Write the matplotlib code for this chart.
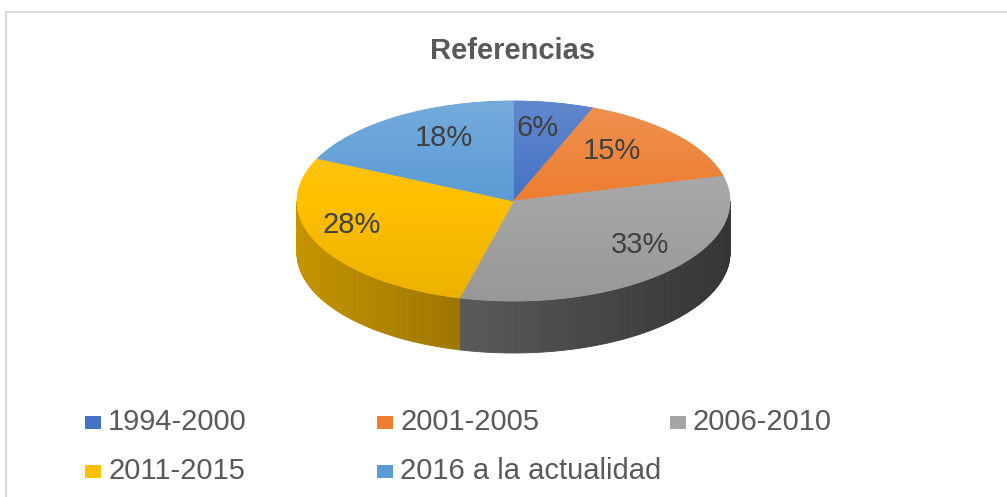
import numpy as np
import matplotlib.pyplot as plt
from matplotlib.patches import Polygon, Rectangle, Circle
from matplotlib.colors import to_rgb

plt.rcParams['font.family'] = ['Liberation Sans', 'DejaVu Sans']

periodos = ['1994-2000', '2001-2005', '2006-2010', '2011-2015', '2016 a la actualidad']
porcentajes = [6, 15, 33, 28, 18]
colores = ['#4472C4', '#ED7D31', '#A5A5A5', '#FFC000', '#5B9BD5']

W, H = 1007, 497
cx, cy, a, b = 513.5, 201, 216.5, 100   # ellipse centre / semi-axes in pixels
depth = 52 / b                           # side height in pie units

fig = plt.figure(figsize=(W / 100, H / 100), dpi=100)
ax = fig.add_axes([0, 0, 1, 1])

wedges, texts, autotexts = ax.pie(
    porcentajes, colors=colores, startangle=90, counterclock=False,
    autopct='%1.0f%%', pctdistance=0.71,
    wedgeprops=dict(linewidth=0.6, zorder=2),
    textprops=dict(fontsize=21, color='#404040'))
for w, c in zip(wedges, colores):
    w.set_edgecolor(c)
# rough perspective: labels in the back half sit closer in, front half further out
for t in autotexts:
    x, y = t.get_position()
    if y > 0:
        t.set_position((x * 0.85, y + 0.03))
    else:
        t.set_position((x * 1.16, y + 0.06))
    t.set_zorder(5)

# front side walls, shaded darker to the right
total = sum(porcentajes)
cum = np.cumsum([0] + porcentajes) / total
for i, c in enumerate(colores):
    t_start = 90 - 360 * cum[i]
    t_end = 90 - 360 * cum[i + 1]
    for lo, hi in [(-180, 0), (180, 360), (-540, -360)]:
        s, e = max(t_end, lo), min(t_start, hi)
        if e <= s:
            continue
        edges = np.linspace(s, e, max(2, int(e - s) + 1))
        for t0, t1 in zip(edges[:-1], edges[1:]):
            tt = np.radians(np.linspace(t0, t1, 4))
            xs, ys = np.cos(tt), np.sin(tt)
            pts = np.column_stack([np.r_[xs, xs[::-1]], np.r_[ys, ys[::-1] - depth]])
            xm = np.cos(np.radians((t0 + t1) / 2))
            f = 0.77 - 0.41 * (xm + 1) / 2
            if c == '#A5A5A5':
                f *= 0.88
            col = tuple(np.array(to_rgb(c)) * f)
            ax.add_patch(Polygon(pts, closed=True, facecolor=col, edgecolor=col,
                                 linewidth=0.6, zorder=1))

# soft vertical gradient on the top face
grad = np.zeros((256, 1, 4))
v = np.linspace(0, 1, 256)
grad[:, 0, :3] = np.where(v < 0.5, 1.0, 0.0)[:, None]
grad[:, 0, 3] = np.where(v < 0.5, 0.16 * (1 - v / 0.5), 0.08 * (v - 0.5) / 0.5)
im = ax.imshow(grad, extent=(-1, 1, -1, 1), aspect='auto', zorder=3)
im.set_clip_path(Circle((0, 0), 1, transform=ax.transData))

ax.set_aspect('auto')
ax.set_xlim(-cx / a, (W - cx) / a)
ax.set_ylim(-(H - cy) / b, cy / b)
ax.axis('off')

# overlay in pixel coordinates for frame, title and legend
ov = fig.add_axes([0, 0, 1, 1])
ov.set_xlim(0, W)
ov.set_ylim(H, 0)
ov.axis('off')
ov.patch.set_alpha(0)
ov.plot([6, 6, W], [H, 12, 12], color='#d9d9d9', linewidth=1.6, solid_joinstyle='miter')
ov.text(513, 51, 'Referencias', ha='center', va='center', fontsize=21,
        fontweight='bold', color='#595959')

col_x = [85, 377, 670]
row_y = [422, 471]
for k, (lab, c) in enumerate(zip(periodos, colores)):
    x0 = col_x[k % 3]
    y0 = row_y[k // 3]
    ov.add_patch(Rectangle((x0, y0 - 6.5), 16, 13, facecolor=c, edgecolor='none'))
    ov.text(x0 + 23, y0, lab, ha='left', va='center', fontsize=21, color='#595959')

fig.savefig('out.png', dpi=100)
